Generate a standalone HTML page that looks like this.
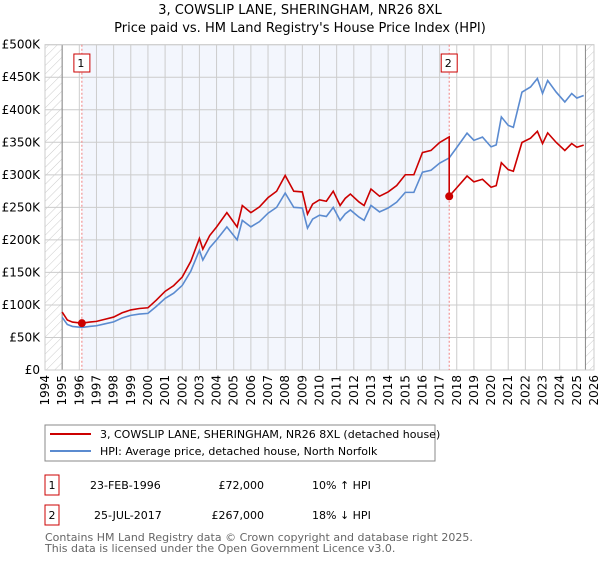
<!DOCTYPE html>
<html><head><meta charset="utf-8"><style>
body{margin:0;background:#fff;font-family:"Liberation Sans","DejaVu Sans",sans-serif;}
svg text{font-family:"DejaVu Sans","Liberation Sans",sans-serif;}
</style></head><body>
<svg id="c" width="600" height="560" xmlns="http://www.w3.org/2000/svg">
<defs><pattern id="hatch" width="6" height="6" patternUnits="userSpaceOnUse" patternTransform="rotate(45)"><line x1="0" y1="0" x2="0" y2="6" stroke="#ccc" stroke-width="1"/></pattern></defs>
<text x="300" y="14" text-anchor="middle" font-size="13" fill="#000">3, COWSLIP LANE, SHERINGHAM, NR26 8XL</text>
<text x="300" y="32" text-anchor="middle" font-size="13" fill="#000">Price paid vs. HM Land Registry's House Price Index (HPI)</text>
<g id="plot"></g>
<rect x="45" y="425" width="390" height="36" fill="#fff" stroke="#888"/>
<line x1="50" y1="434" x2="91" y2="434" stroke="#cc0000" stroke-width="2"/>
<text x="100" y="438" font-size="11">3, COWSLIP LANE, SHERINGHAM, NR26 8XL (detached house)</text>
<line x1="50" y1="451" x2="91" y2="451" stroke="#5b8bd0" stroke-width="2"/>
<text x="100" y="455" font-size="11">HPI: Average price, detached house, North Norfolk</text>
<rect x="45" y="475" width="14" height="20" fill="#fff" stroke="#cc0000"/>
<text x="52" y="489" font-size="11" text-anchor="middle">1</text>
<text x="90" y="489" font-size="11">23-FEB-1996</text>
<text x="264" y="489" font-size="11" text-anchor="end">£72,000</text>
<text x="312" y="489" font-size="11">10% ↑ HPI</text>
<rect x="45" y="505" width="14" height="20" fill="#fff" stroke="#cc0000"/>
<text x="52" y="519" font-size="11" text-anchor="middle">2</text>
<text x="94" y="519" font-size="11">25-JUL-2017</text>
<text x="264" y="519" font-size="11" text-anchor="end">£267,000</text>
<text x="312" y="519" font-size="11">18% ↓ HPI</text>
<text x="45" y="541" font-size="11" fill="#666">Contains HM Land Registry data © Crown copyright and database right 2025.</text>
<text x="45" y="552" font-size="11" fill="#666">This data is licensed under the Open Government Licence v3.0.</text>
</svg>
<script>
const hpiYears=[1995.0,1995.3,1995.6,1996.15,1996.6,1997,1997.5,1998,1998.5,1999,1999.5,2000,2000.5,2001,2001.5,2002,2002.5,2003.0,2003.2,2003.6,2004,2004.6,2005.2,2005.5,2006,2006.5,2007,2007.5,2008,2008.5,2009,2009.3,2009.6,2010,2010.4,2010.8,2011.2,2011.5,2011.8,2012.3,2012.6,2013,2013.5,2014,2014.5,2015,2015.5,2016,2016.5,2017,2017.56,2018,2018.6,2019,2019.5,2020,2020.3,2020.6,2021,2021.3,2021.8,2022.3,2022.7,2023,2023.3,2023.8,2024.3,2024.7,2025,2025.4];
const hpiValues=[81,70,67,65.5,67,68,71,74,80,84,86,87,98,110,118,130,152,184,169,188,200,220,200,230,220,228,241,250,272,250,249,218,232,238,236,250,230,240,246,235,230,253,243,249,258,273,273,304,307,318,326,342,364,353,358,343,346,389,376,373,427,435,448,425,445,427,412,425,418,422];
const saleYears=[1996.15,2017.56];
const salePrices=[72,267];
const yTicks=[0,50,100,150,200,250,300,350,400,450,500];
const yTickLabels=["£0","£50K","£100K","£150K","£200K","£250K","£300K","£350K","£400K","£450K","£500K"];
const xTicks=[1994,1995,1996,1997,1998,1999,2000,2001,2002,2003,2004,2005,2006,2007,2008,2009,2010,2011,2012,2013,2014,2015,2016,2017,2018,2019,2020,2021,2022,2023,2024,2025,2026];
const X0=45,X1=594,Y0=370,Y1=44.7;
const xs=y=>X0+(y-1994)/(2026-1994)*(X1-X0);
const ys=v=>Y0-(v/500)*(Y0-Y1);
const NS="http://www.w3.org/2000/svg";
const g=document.getElementById('plot');
function mk(t,a){const e=document.createElementNS(NS,t);for(const k in a)e.setAttribute(k,a[k]);g.appendChild(e);return e;}
let e;
e=mk('rect',{x:X0,y:Y1,width:X1-X0,height:Y0-Y1,fill:'#fff'});


e=mk('rect',{x:xs(saleYears[0]),y:Y1,width:xs(saleYears[1])-xs(saleYears[0]),height:Y0-Y1,fill:'#f3f6fd'});


e=mk('rect',{x:X0,y:Y1,width:xs(1995)-X0,height:Y0-Y1,fill:'url(#hatch)'});


e=mk('rect',{x:xs(2025.5),y:Y1,width:X1-xs(2025.5),height:Y0-Y1,fill:'url(#hatch)'});


yTicks.forEach((v,i)=>{
 e=mk('line',{x1:X0,x2:X1,y1:ys(v),y2:ys(v),stroke:'#ccc'});
 
 
 e=mk('text',{x:40,y:ys(v)+4,'text-anchor':'end','font-size':12});
 e.textContent=yTickLabels[i];
 
 
});
xTicks.forEach(y=>{
 e=mk('line',{x1:xs(y),x2:xs(y),y1:Y1,y2:Y0,stroke:'#ccc'});
 
 
 e=mk('text',{x:0,y:0,'font-size':12,'text-anchor':'end',transform:`translate(${xs(y)+4},${Y0+5}) rotate(-90)`});
 e.textContent=y;
 
 
});
e=mk('line',{x1:xs(1995),x2:xs(1995),y1:Y1,y2:Y0,stroke:'#888'});


e=mk('line',{x1:xs(2025.5),x2:xs(2025.5),y1:Y1,y2:Y0,stroke:'#888'});


e=mk('rect',{x:X0,y:Y1,width:X1-X0,height:Y0-Y1,fill:'none',stroke:'#ccc'});


saleYears.forEach((y,i)=>{
 e=mk('line',{x1:xs(y),x2:xs(y),y1:Y1,y2:Y0,stroke:'#f08080','stroke-dasharray':'2,2'});
 
 
});
// HPI line
e=mk('polyline',{points:hpiYears.map((y,i)=>xs(y)+','+ys(hpiValues[i])).join(' '),fill:'none',stroke:'#5b8bd0','stroke-width':1.6});


// property line: scaled HPI by ratio at last sale
function hpiAt(t){for(let i=1;i<hpiYears.length;i++){if(t<=hpiYears[i]){const f=(t-hpiYears[i-1])/(hpiYears[i]-hpiYears[i-1]);return hpiValues[i-1]+f*(hpiValues[i]-hpiValues[i-1]);}}return hpiValues[hpiValues.length-1];}
const r1=salePrices[0]/hpiAt(saleYears[0]),r2=salePrices[1]/hpiAt(saleYears[1]);
const pts=[];
hpiYears.forEach((y,i)=>{
 if(y<saleYears[1]) pts.push([y,hpiValues[i]*r1]);
 else if(y===saleYears[1]){pts.push([y,hpiValues[i]*r1]);pts.push([y,salePrices[1]]);}
 else pts.push([y,hpiValues[i]*r2]);
});
e=mk('polyline',{points:pts.map(p=>xs(p[0])+','+ys(p[1])).join(' '),fill:'none',stroke:'#cc0000','stroke-width':1.6});


saleYears.forEach((y,i)=>{
 e=mk('circle',{cx:xs(y),cy:ys(salePrices[i]),r:4,fill:'#cc0000'});
 
 
 e=mk('rect',{x:xs(y)-8,y:54,width:16,height:18,fill:'#fff',stroke:'#cc0000'});
 
 
 e=mk('text',{x:xs(y)-1,y:67,'font-size':11,'text-anchor':'middle'});
 e.textContent=String(i+1);
 
 
});
</script>
</body></html>
